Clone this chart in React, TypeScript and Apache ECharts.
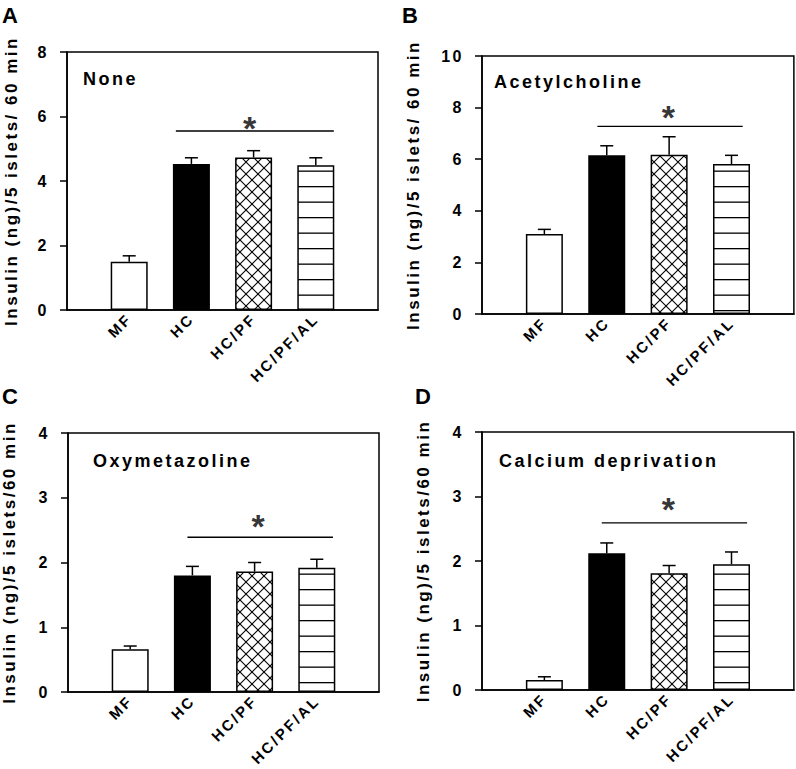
import React, { useEffect, useRef } from 'react';
import * as echarts from 'echarts';

// ---------------- data ----------------
const categories = ['MF', 'HC', 'HC/PF', 'HC/PF/AL'];
const panelLetters = ['A', 'B', 'C', 'D'];
const conditions = ['None', 'Acetylcholine', 'Oxymetazoline', 'Calcium deprivation'];
const yTitles = [
  'Insulin (ng)/5 islets/ 60 min',
  'Insulin (ng)/5 islets/ 60 min',
  'Insulin (ng)/5 islets/60 min',
  'Insulin (ng)/5 islets/60 min',
];
const yMax = [8, 10, 4, 4];
const yInterval = [2, 2, 1, 1];

const meansA = [1.5, 4.53, 4.73, 4.49];
const errA = [0.18, 0.19, 0.21, 0.23];
const meansB = [3.1, 6.15, 6.17, 5.81];
const errB = [0.18, 0.37, 0.7, 0.34];
const meansC = [0.66, 1.8, 1.86, 1.92];
const errC = [0.05, 0.14, 0.14, 0.13];
const meansD = [0.155, 2.12, 1.81, 1.95];
const errD = [0.05, 0.16, 0.12, 0.19];

// significance bar (x in category-slot units) and asterisk
const sigStart = [1.75, 1.85, 1.92, 1.92];
const sigEnd = [4.29, 4.18, 4.26, 4.25];
const sigLevel = [5.55, 7.27, 2.39, 2.59];
const starX = [2.94, 2.99, 3.06, 2.99];
const starY = [5.86, 7.9, 2.66, 2.9];

const allMeans = [meansA, meansB, meansC, meansD];
const allErrs = [errA, errB, errC, errD];

// ---------------- layout ----------------
const grids = [
  { left: 67, top: 52, width: 311, height: 258 },
  { left: 482, top: 56, width: 312, height: 258 },
  { left: 68, top: 433, width: 311, height: 259 },
  { left: 482, top: 432, width: 312, height: 258 },
];
const nameGaps = [47, 60, 50, 50];
const letterPos = [
  [2, 15],
  [402, 15.5],
  [2, 396.5],
  [415, 396.5],
];
const annotationPos = [
  [83, 78.5],
  [494, 81.5],
  [93, 461],
  [499, 461],
];
const hatchOffset = [2.2, 10.5, 5.3, 1.3];

const FONT = '"Liberation Sans", Arial, Helvetica, sans-serif';

function makeCross(): HTMLCanvasElement {
  const c = document.createElement('canvas');
  const s = 12;
  c.width = s;
  c.height = s;
  const ctx = c.getContext('2d')!;
  ctx.fillStyle = '#fff';
  ctx.fillRect(0, 0, s, s);
  ctx.strokeStyle = '#000';
  ctx.lineWidth = 1.1;
  for (const o of [-s, 0, s]) {
    ctx.beginPath();
    ctx.moveTo(o, 0);
    ctx.lineTo(o + s, s);
    ctx.stroke();
    ctx.beginPath();
    ctx.moveTo(o + s, 0);
    ctx.lineTo(o, s);
    ctx.stroke();
  }
  return c;
}

function makeLines(): HTMLCanvasElement {
  const c = document.createElement('canvas');
  c.width = 4;
  c.height = 31;
  const ctx = c.getContext('2d')!;
  ctx.fillStyle = '#fff';
  ctx.fillRect(0, 0, 4, 31);
  ctx.fillStyle = '#000';
  ctx.fillRect(0, 0, 4, 1.3);
  ctx.fillRect(0, 15.5, 4, 1.3);
  return c;
}

export default function App() {
  const ref = useRef<HTMLDivElement>(null);

  useEffect(() => {
    if (!ref.current) return;
    const chart = echarts.init(ref.current, undefined, { renderer: 'svg' });
    const cross = makeCross();
    const lines = makeLines();

    const xAxes: any[] = [];
    const yAxes: any[] = [];
    const series: any[] = [];
    const graphics: any[] = [];

    for (let p = 0; p < 4; p++) {
      xAxes.push({
        gridIndex: p,
        type: 'category',
        data: ['', ...categories, ''],
        boundaryGap: false,
        axisLine: { lineStyle: { color: '#000', width: 1.5 } },
        axisTick: { show: false },
        axisLabel: {
          interval: 0,
          rotate: 45,
          fontSize: 15,
          fontWeight: 'bold',
          color: '#000',
          margin: 6,
          fontFamily: FONT,
        },
        splitLine: { show: false },
      });
    }
    for (let p = 0; p < 4; p++) {
      xAxes.push({ gridIndex: p, type: 'value', min: 0, max: 5, show: false });
    }
    for (let p = 0; p < 4; p++) {
      yAxes.push({
        gridIndex: p,
        type: 'value',
        min: 0,
        max: yMax[p],
        interval: yInterval[p],
        axisLine: { show: true, lineStyle: { color: '#000', width: 1.5 } },
        axisTick: { show: true, length: 7, lineStyle: { color: '#000', width: 1.5 } },
        axisLabel: { fontSize: 16, fontWeight: 'bold', color: '#000', margin: 18, fontFamily: FONT },
        splitLine: { show: false },
        name: yTitles[p],
        nameLocation: 'middle',
        nameRotate: 90,
        nameGap: nameGaps[p],
        nameTextStyle: { fontSize: 17, fontWeight: 'bold', color: '#000', fontFamily: FONT },
      });

      const means = allMeans[p];
      const errs = allErrs[p];
      const base = { borderColor: '#000', borderWidth: 1.5 };
      const styles = [
        { ...base, color: '#fff' },
        { ...base, color: '#000' },
        { ...base, color: { image: cross, repeat: 'repeat' } },
        { ...base, color: { image: lines, repeat: 'repeat', y: hatchOffset[p] } },
      ];
      series.push({
        type: 'bar',
        xAxisIndex: p,
        yAxisIndex: p,
        barWidth: 37,
        data: ['-', ...means.map((v, i) => ({ value: v, itemStyle: styles[i] })), '-'],
        z: 2,
      });
      series.push({
        type: 'custom',
        xAxisIndex: p,
        yAxisIndex: p,
        z: 3,
        data: means.map((m, i) => [i + 1, m, m + errs[i]]),
        encode: { x: 0, y: [1, 2] },
        renderItem: (params: any, api: any) => {
          const b = api.coord([api.value(0), api.value(1)]);
          const t = api.coord([api.value(0), api.value(2)]);
          return {
            type: 'group',
            children: [
              {
                type: 'line',
                shape: { x1: b[0], y1: b[1], x2: t[0], y2: t[1] },
                style: { stroke: '#000', lineWidth: 1.5 },
              },
              {
                type: 'line',
                shape: { x1: t[0] - 6.5, y1: t[1], x2: t[0] + 6.5, y2: t[1] },
                style: { stroke: '#000', lineWidth: 1.5 },
              },
            ],
          };
        },
      });
      series.push({
        type: 'line',
        xAxisIndex: 4 + p,
        yAxisIndex: p,
        data: [
          [sigStart[p], sigLevel[p]],
          [sigEnd[p], sigLevel[p]],
        ],
        symbol: 'none',
        lineStyle: { color: '#000', width: 1.3 },
        z: 3,
      });
      series.push({
        type: 'scatter',
        xAxisIndex: 4 + p,
        yAxisIndex: p,
        data: [[starX[p], starY[p]]],
        symbolSize: 1,
        itemStyle: { color: 'rgba(0,0,0,0)' },
        label: {
          show: true,
          position: 'inside',
          formatter: '*',
          fontSize: 34,
          fontWeight: 'bold',
          color: '#000',
          fontFamily: FONT,
          offset: [1, 6.5],
        },
        z: 4,
      });

      graphics.push({
        type: 'text',
        x: letterPos[p][0],
        y: letterPos[p][1],
        style: {
          text: panelLetters[p],
          fill: '#000',
          font: `bold 22px ${FONT}`,
          textAlign: 'left',
          textVerticalAlign: 'middle',
          align: 'left',
          verticalAlign: 'middle',
        },
      });
      graphics.push({
        type: 'text',
        x: annotationPos[p][0],
        y: annotationPos[p][1],
        style: {
          text: conditions[p],
          fill: '#000',
          font: `bold 18px ${FONT}`,
          textAlign: 'left',
          textVerticalAlign: 'middle',
          align: 'left',
          verticalAlign: 'middle',
        },
      });
    }

    chart.setOption({
      animation: false,
      backgroundColor: '#fff',
      textStyle: { fontFamily: FONT },
      grid: grids.map((g) => ({
        ...g,
        show: true,
        borderColor: '#000',
        borderWidth: 1.5,
        backgroundColor: 'transparent',
        containLabel: false,
      })),
      xAxis: xAxes,
      yAxis: yAxes,
      series,
      graphic: graphics,
    });

    return () => chart.dispose();
  }, []);

  return (
    <div
      ref={ref}
      style={{
        position: 'absolute',
        left: 0,
        top: 0,
        width: 796,
        height: 769,
        letterSpacing: '2.5px',
      }}
    />
  );
}
